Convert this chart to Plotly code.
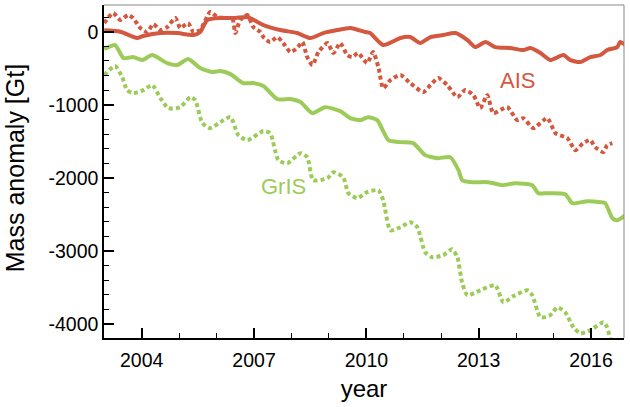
import plotly.graph_objects as go

# ---- data ----
ais_solid_year = [2003.0, 2003.43, 2003.87, 2004.04, 2004.50, 2004.95, 2005.38, 2005.56, 2005.75, 2006.10,
                  2006.50, 2006.82, 2007.25, 2007.70, 2008.15, 2008.50, 2008.85, 2009.22, 2009.57, 2009.97,
                  2010.10, 2010.45, 2010.91, 2011.17, 2011.44, 2011.71, 2012.05, 2012.38, 2012.70, 2012.91,
                  2013.18, 2013.44, 2013.84, 2014.19, 2014.38, 2014.65, 2014.91, 2015.26, 2015.45, 2015.71,
                  2015.98, 2016.25, 2016.43, 2016.70, 2016.78, 2016.92]
ais_solid_val = [20, 0, -86, -59, -18, -18, -45, -4, 160, 188,
                 188, 201, 92, 23, -18, -86, -18, 23, 51, -4,
                 -18, -182, -86, -73, -155, -73, -45, -18, -114, -210,
                 -141, -210, -223, -251, -223, -292, -388, -319, -388, -415,
                 -347, -319, -251, -210, -141, -182]

ais_dash_year = [2003.0, 2003.24, 2003.43, 2003.64, 2003.77, 2003.96, 2004.15, 2004.31, 2004.50, 2004.68,
                 2004.90, 2005.03, 2005.24, 2005.38, 2005.56, 2005.83, 2006.02, 2006.29, 2006.42, 2006.50,
                 2006.63, 2006.82, 2006.98, 2007.17, 2007.25, 2007.43, 2007.62, 2007.78, 2007.97, 2008.15,
                 2008.29, 2008.42, 2008.56, 2008.72, 2008.96, 2009.12, 2009.30, 2009.49, 2009.62, 2009.78,
                 2010.02, 2010.18, 2010.32, 2010.45, 2010.64, 2010.91, 2011.17, 2011.52, 2011.71, 2011.92,
                 2012.16, 2012.43, 2012.64, 2012.86, 2013.04, 2013.23, 2013.39, 2013.76, 2014.03, 2014.19,
                 2014.46, 2014.83, 2015.05, 2015.37, 2015.58, 2015.79, 2015.98, 2016.11, 2016.33, 2016.43,
                 2016.57]
ais_dash_val = [119, 256, 160, 229, 188, 51, -4, 105, 23, 64,
                188, 51, 119, -4, 23, 270, 201, 188, 188, -18,
                160, 229, 64, -4, -73, -141, -73, -155, -278, -223,
                -141, -347, -456, -278, -155, -292, -155, -319, -347, -292,
                -429, -278, -484, -772, -662, -593, -703, -826, -730, -634,
                -730, -895, -799, -868, -1046, -868, -1114, -1032, -1210, -1183,
                -1319, -1183, -1388, -1457, -1621, -1525, -1484, -1580, -1648, -1552,
                -1525]

gris_solid_year = [2003.0, 2003.29, 2003.51, 2003.77, 2004.01, 2004.28, 2004.68, 2004.95, 2005.24, 2005.56,
                   2005.88, 2006.10, 2006.37, 2006.71, 2006.98, 2007.25, 2007.62, 2007.97, 2008.24, 2008.56,
                   2008.90, 2009.30, 2009.57, 2009.84, 2010.05, 2010.29, 2010.59, 2010.91, 2011.25, 2011.57,
                   2011.89, 2012.24, 2012.46, 2012.56, 2012.83, 2013.26, 2013.63, 2013.98, 2014.43, 2014.59,
                   2014.86, 2015.31, 2015.50, 2015.90, 2016.25, 2016.38, 2016.57, 2016.70, 2016.92]
gris_solid_val = [-237, -182, -360, -347, -388, -319, -429, -456, -374, -497,
                  -552, -538, -580, -703, -703, -744, -922, -922, -963, -1114,
                  -1032, -1086, -1182, -1210, -1169, -1210, -1484, -1511, -1525, -1689,
                  -1731, -1717, -1895, -2032, -2059, -2059, -2100, -2073, -2100, -2210,
                  -2210, -2223, -2347, -2319, -2333, -2347, -2552, -2580, -2511]

gris_dash_year = [2003.0, 2003.29, 2003.48, 2003.61, 2003.77, 2004.04, 2004.28, 2004.50, 2004.71, 2005.03,
                  2005.30, 2005.43, 2005.62, 2005.83, 2006.10, 2006.37, 2006.58, 2006.82, 2007.25, 2007.43,
                  2007.65, 2007.89, 2008.24, 2008.42, 2008.58, 2008.96, 2009.12, 2009.38, 2009.52, 2009.76,
                  2010.02, 2010.32, 2010.45, 2010.64, 2010.91, 2011.17, 2011.36, 2011.57, 2011.76, 2012.05,
                  2012.29, 2012.43, 2012.56, 2012.70, 2013.04, 2013.44, 2013.66, 2013.92, 2014.30, 2014.43,
                  2014.65, 2014.91, 2015.10, 2015.31, 2015.53, 2015.71, 2015.98, 2016.33, 2016.43, 2016.51,
                  2016.59]
gris_dash_val = [-593, -470, -621, -799, -840, -799, -730, -908, -1046, -1032,
                 -895, -936, -1251, -1319, -1237, -1169, -1415, -1484, -1360, -1388,
                 -1758, -1799, -1662, -1717, -2032, -2004, -1922, -1991, -2210, -2278,
                 -2196, -2169, -2306, -2717, -2676, -2607, -2676, -3018, -3087, -3059,
                 -2977, -3087, -3443, -3607, -3539, -3470, -3703, -3621, -3539, -3607,
                 -3909, -3881, -3772, -3840, -4046, -4128, -4087, -3977, -4046, -4197,
                 -4360]

x_tick_vals = [2004, 2007, 2010, 2013, 2016]
x_tick_text = ["2004", "2007", "2010", "2013", "2016"]
y_tick_vals = [0, -1000, -2000, -3000, -4000]
y_tick_text = ["0", "-1000", "-2000", "-3000", "-4000"]

RED = "#d4573f"
GREEN = "#9dcb5a"
FONT = "Liberation Sans, Arial, Helvetica, sans-serif"

fig = go.Figure()
fig.add_trace(go.Scatter(x=ais_solid_year, y=ais_solid_val, mode="lines",
                         line=dict(color=RED, width=4, shape="spline", smoothing=0.6), showlegend=False))
fig.add_trace(go.Scatter(x=ais_dash_year, y=ais_dash_val, mode="lines",
                         line=dict(color=RED, width=4, dash="4px,3px", shape="spline", smoothing=0.6),
                         showlegend=False))
fig.add_trace(go.Scatter(x=gris_solid_year, y=gris_solid_val, mode="lines",
                         line=dict(color=GREEN, width=4, shape="spline", smoothing=0.6), showlegend=False))
fig.add_trace(go.Scatter(x=gris_dash_year, y=gris_dash_val, mode="lines",
                         line=dict(color=GREEN, width=4, dash="4px,3px", shape="spline", smoothing=0.6),
                         showlegend=False))

fig.add_annotation(x=2014.03, y=-662, text="AIS", showarrow=False,
                   font=dict(family=FONT, size=22, color=RED))
fig.add_annotation(x=2007.78, y=-2114, text="GrIS", showarrow=False,
                   font=dict(family=FONT, size=22, color=GREEN))
# y-axis title placed as rotated text at the left edge
fig.add_annotation(xref="paper", yref="paper", x=-0.171, y=0.51, text="Mass anomaly [Gt]",
                   textangle=-90, showarrow=False, xanchor="center", yanchor="middle",
                   font=dict(family=FONT, size=25, color="black"))

# top and right frame lines (gray)
fig.add_shape(type="line", xref="paper", yref="paper", x0=0, x1=1, y0=1, y1=1,
              line=dict(color="#888888", width=1))
fig.add_shape(type="line", xref="paper", yref="paper", x0=1, x1=1, y0=0, y1=1,
              line=dict(color="#888888", width=1))

fig.update_layout(
    width=630, height=407,
    margin=dict(l=104, r=6, t=5, b=69, autoexpand=False),
    paper_bgcolor="white", plot_bgcolor="white",
    font=dict(family=FONT, color="black"),
)
fig.update_xaxes(
    range=[2002.993, 2016.88], showgrid=False, zeroline=False, automargin=False,
    showline=True, linecolor="black", linewidth=1.5,
    tickmode="array", tickvals=x_tick_vals, ticktext=x_tick_text,
    ticks="inside", ticklen=10, tickwidth=1.5, tickcolor="black",
    tickfont=dict(size=19.5), ticklabelstandoff=4,
    minor=dict(dtick=1, tick0=2004, ticks="inside", ticklen=5, tickwidth=1, tickcolor="black"),
    title=dict(text="year", font=dict(size=24), standoff=10),
)
fig.update_yaxes(
    range=[-4192, 366], showgrid=False, zeroline=False, automargin=False,
    showline=True, linecolor="black", linewidth=1.5,
    tickmode="array", tickvals=y_tick_vals, ticktext=y_tick_text,
    ticks="inside", ticklen=10, tickwidth=1.5, tickcolor="black",
    tickfont=dict(size=19.5),
    minor=dict(dtick=200, tick0=0, ticks="inside", ticklen=5, tickwidth=1, tickcolor="black"),
)

fig.write_html("out.html", config={"displayModeBar": False},
               post_script="document.body.style.margin='0px';")
